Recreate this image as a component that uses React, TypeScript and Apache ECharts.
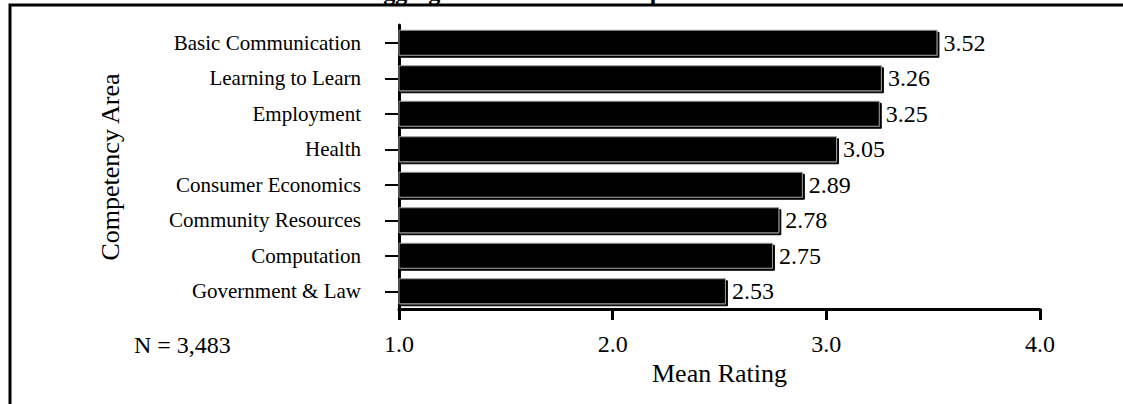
import React, { useEffect, useRef } from "react";
import * as echarts from "echarts";

const categories = [
  "Basic Communication",
  "Learning to Learn",
  "Employment",
  "Health",
  "Consumer Economics",
  "Community Resources",
  "Computation",
  "Government & Law",
];
const meanRatings = [3.52, 3.26, 3.25, 3.05, 2.89, 2.78, 2.75, 2.53];
const xTicks = { min: 1, max: 4, interval: 1 };
const titleText = "Aggregated Means for Competencies";
const sampleNote = "N = 3,483";
const xName = "Mean Rating";
const yName = "Competency Area";

const FONT = "'Liberation Serif', 'Times New Roman', serif";

export default function App() {
  const ref = useRef<HTMLDivElement>(null);
  useEffect(() => {
    if (!ref.current) return;
    const chart = echarts.init(ref.current, null, { renderer: "svg" });
    chart.setOption({
      animation: false,
      backgroundColor: "#fff",
      textStyle: { fontFamily: FONT, color: "#000" },
      grid: { left: 399, right: 83, top: 25, bottom: 95, containLabel: false },
      xAxis: {
        type: "value",
        min: xTicks.min,
        max: xTicks.max,
        interval: xTicks.interval,
        name: xName,
        nameLocation: "middle",
        nameGap: 44,
        nameTextStyle: { fontFamily: FONT, fontSize: 26, color: "#000" },
        axisLine: { show: true, lineStyle: { color: "#000", width: 3 } },
        axisTick: { show: true, length: 11, lineStyle: { color: "#000", width: 3 } },
        axisLabel: {
          margin: 23,
          fontFamily: FONT,
          fontSize: 24,
          color: "#000",
          formatter: (v: number) => v.toFixed(1),
        },
        splitLine: { show: false },
      },
      yAxis: {
        type: "category",
        data: categories,
        inverse: true,
        name: yName,
        nameLocation: "middle",
        nameGap: 276,
        nameRotate: 90,
        nameTextStyle: { fontFamily: FONT, fontSize: 26, color: "#000" },
        axisLine: { show: true, lineStyle: { color: "#000", width: 3 } },
        axisTick: { show: true, alignWithLabel: true, length: 14, lineStyle: { color: "#000", width: 2 } },
        axisLabel: { margin: 38, fontFamily: FONT, fontSize: 21, color: "#000" },
      },
      series: [
        {
          type: "bar",
          data: meanRatings,
          barWidth: 26,
          itemStyle: {
            color: "#000",
            borderColor: "#9a9a9a",
            borderWidth: 1,
            shadowColor: "#000",
            shadowOffsetX: 2,
            shadowOffsetY: 2,
            shadowBlur: 0,
          },
          label: {
            show: true,
            position: "right",
            distance: 6,
            fontFamily: FONT,
            fontSize: 24,
            color: "#000",
            formatter: (p: any) => p.value.toFixed(2),
          },
        },
      ],
      graphic: [
        {
          type: "rect",
          shape: { x: 10, y: 5, width: 1300, height: 600 },
          style: { fill: "none", stroke: "#000", lineWidth: 3 },
          silent: true,
        },
        {
          type: "text",
          x: 366,
          y: 4,
          style: {
            text: titleText,
            font: `bold 24px ${FONT}`,
            fill: "#000",
            textAlign: "left",
            textVerticalAlign: "bottom",
          },
          silent: true,
        },
        {
          type: "text",
          x: 134,
          y: 345,
          style: {
            text: sampleNote,
            font: `24px ${FONT}`,
            fill: "#000",
            textAlign: "left",
            textVerticalAlign: "middle",
          },
          silent: true,
        },
      ],
    });
    return () => chart.dispose();
  }, []);
  return (
    <div
      ref={ref}
      style={{ position: "fixed", left: 0, top: 0, width: 1123, height: 404 }}
    />
  );
}
